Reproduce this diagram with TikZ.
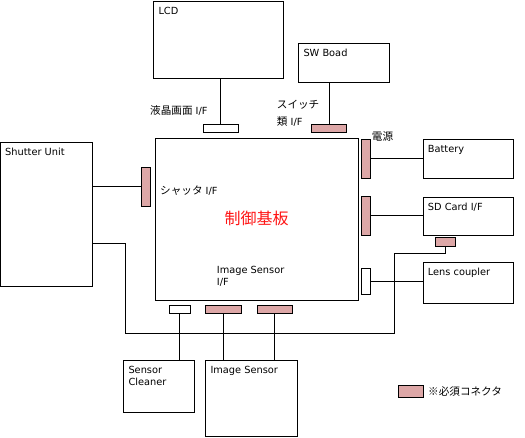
\documentclass[tikz,border=0pt]{standalone}
\usepackage{fontspec}
\setmainfont{DejaVu Sans}
\newfontfamily\jp{Noto Sans CJK JP}
\usepackage{tikz}
\usetikzlibrary{calc}
\definecolor{mustpink}{RGB}{221,167,167}
\definecolor{boardred}{RGB}{255,20,20}
\newcommand{\jpt}[1]{{\fontsize{10.6}{11.7}\jp #1}}
\tikzset{
	unit/.style={draw, line width=0.8pt, anchor=north west, inner sep=0pt},
	must/.style={draw, line width=0.8pt, fill=mustpink, inner sep=0pt},
	opt/.style={draw, line width=0.8pt, fill=white, inner sep=0pt},
	txt/.style={anchor=north west, inner sep=0pt, align=left, font=\fontsize{9.8}{11.7}\selectfont},
	freetxt/.style={anchor=west, inner sep=0pt, align=left, font=\fontsize{9.8}{11.7}\selectfont},
	wire/.style={line width=0.8pt}
}

\begin{document}
\begin{tikzpicture}[x=1pt, y=-1pt]
			%%%%% START %%%%%
			\useasboundingbox (0,0) rectangle (525,437);
			
			\node[unit, minimum width=130pt, minimum height=77.3pt] (lcd) at (153.3,1) {};
			\node[unit, minimum width=91pt, minimum height=39pt] (sw) at (298.3,43.3) {};
			\node[unit, minimum width=203pt, minimum height=161.7pt] (board) at (155.3,138.3) {};
			\node[unit, minimum width=91.7pt, minimum height=143.7pt] (shutter) at (0,142.3) {};
			\node[unit, minimum width=90.6pt, minimum height=39pt] (battery) at (422.7,139.3) {};
			\node[unit, minimum width=90.6pt, minimum height=38.3pt] (sdcard) at (422.7,196.7) {};
			\node[unit, minimum width=90.6pt, minimum height=40.4pt] (lens) at (422.7,262.3) {};
			\node[unit, minimum width=71pt, minimum height=52.3pt] (cleaner) at (123.3,360) {};
			\node[unit, minimum width=92pt, minimum height=76pt] (sensor) at (205.3,360) {};
			
			\node[txt] (lcdtxt) at ([xshift=5pt,yshift=-6pt]lcd.north west) {LCD};
			\node[txt] (swtxt) at ([xshift=5pt,yshift=-6pt]sw.north west) {SW Boad};
			\node[txt] (shuttertxt) at ([xshift=5pt,yshift=-6pt]shutter.north west) {Shutter Unit};
			\node[txt] (batterytxt) at ([xshift=5pt,yshift=-6pt]battery.north west) {Battery};
			\node[txt] (sdcardtxt) at ([xshift=5pt,yshift=-6pt]sdcard.north west) {SD Card I/F};
			\node[txt] (lenstxt) at ([xshift=5pt,yshift=-6pt]lens.north west) {Lens coupler};
			\node[txt] (cleanertxt) at ([xshift=5pt,yshift=-6pt]cleaner.north west) {Sensor\\Cleaner};
			\node[txt] (sensortxt) at ([xshift=5pt,yshift=-6pt]sensor.north west) {Image Sensor};
			
			% connectors
			\node[opt, minimum width=35pt, minimum height=8pt] (lcdif) at (220.8,128.3) {};
			\node[must, minimum width=35pt, minimum height=8pt] (swif) at (329.2,128.3) {};
			\node[must, minimum width=8.3pt, minimum height=39pt] (powif) at (365.8,158.8) {};
			\node[must, minimum width=8.3pt, minimum height=38.3pt] (sdif) at (365.8,215.8) {};
			\node[must, minimum width=20pt, minimum height=9pt] (auxif) at (445.7,242.2) {};
			\node[opt, minimum width=8.3pt, minimum height=26pt] (lensif) at (365.8,281.3) {};
			\node[must, minimum width=9pt, minimum height=38.7pt] (shutif) at (146.2,186.6) {};
			\node[opt, minimum width=21pt, minimum height=8pt] (cleanif) at (179.8,309.3) {};
			\node[must, minimum width=36.4pt, minimum height=8pt] (senseaif) at (223.5,309.3) {};
			\node[must, minimum width=35pt, minimum height=8pt] (sensebif) at (274.8,309.3) {};
			
			\node[freetxt] (lcdiftxt) at (150,110) {\jpt{液晶画面} I/F};
			\node[freetxt] (swiftxt) at (276.7,105) {\jpt{スイッチ}};
			\node[freetxt] (swiftxtb) at (276.7,121.7) {\jpt{類} I/F};
			\node[freetxt] (powiftxt) at (371.7,136.7) {\jpt{電源}};
			\node[freetxt] (shutiftxt) at (160,190.7) {\jpt{シャッタ} I/F};
			\node[freetxt] (senseiftxt) at (216.7,276) {Image Sensor\\I/F};
			\node[text=boardred, font=\fontsize{16}{18}\jp, inner sep=0pt] (boardtxt) at (256.7,218.3) {制御基板};
			
			% wires
			\draw[wire] (lcdif.north) -- (lcdif.north |- lcd.south);
			\draw[wire] (swif.north) -- (swif.north |- sw.south);
			\draw[wire] (powif.east) -- (battery.west |- powif.east);
			\draw[wire] (sdif.east) -- (sdcard.west |- sdif.east);
			\draw[wire] (lensif.east) -- (lens.west |- lensif.east);
			\draw[wire] (shutif.west) -- (shutter.east |- shutif.west);
			\draw[wire] (cleanif.south) -- (cleanif.south |- cleaner.north);
			\draw[wire] (senseaif.south) -- (senseaif.south |- sensor.north);
			\draw[wire] (sensebif.south) -- (sensebif.south |- sensor.north);
			
			\coordinate (loopa) at (394.3,253.3);
			\coordinate (loopb) at (125.7,333.3);
			\coordinate (shutlow) at (shutter.east |- 0,243.3);
			\draw[wire] (auxif.south) |- (loopa) |- (loopb) |- (shutlow);
			
			% legend
			\node[must, minimum width=25pt, minimum height=11.6pt] (legend) at (410.8,391.5) {};
			\node[freetxt] (legendtxt) at (428,391) {\jpt{※必須コネクタ}};
			
			%%%%% END %%%%%
\end{tikzpicture}
\end{document}
